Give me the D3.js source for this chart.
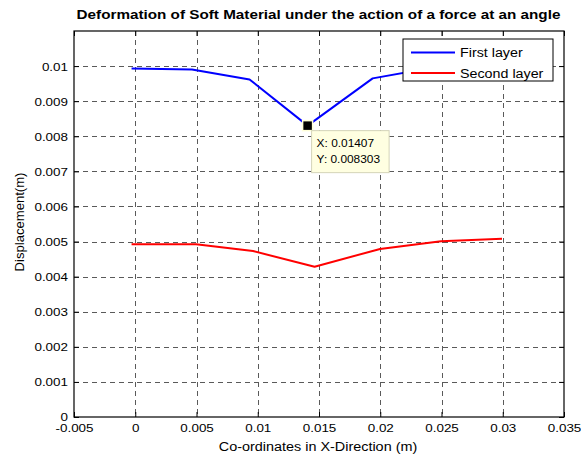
<!DOCTYPE html>
<html>
<head>
<meta charset="utf-8">
<script src="https://cdn.jsdelivr.net/npm/d3@7"></script>
<style>
  html, body { margin: 0; padding: 0; background: #fff; }
  svg { display: block; font-family: "Liberation Sans", Arial, sans-serif; }
</style>
</head>
<body>
<svg id="chart" width="581" height="458"></svg>
<script>
// Node coordinates along X (m) and vertical displacement (m) for each layer
const firstX  = [-0.0003, 0.00463, 0.00933, 0.01407, 0.01938, 0.0247, 0.0300];
const firstY  = [0.00993, 0.00990, 0.00962, 0.008303, 0.00965, 0.00998, 0.01003];
const secondX = [-0.0003, 0.00496, 0.00961, 0.01464, 0.01998, 0.02496, 0.02994];
const secondY = [0.00492, 0.00492, 0.00473, 0.00428, 0.00479, 0.00501, 0.00508];

const xTicks = [-0.005, 0, 0.005, 0.01, 0.015, 0.02, 0.025, 0.03, 0.035];
const xTickLabels = ["-0.005", "0", "0.005", "0.01", "0.015", "0.02", "0.025", "0.03", "0.035"];
const yTicks = [0, 0.001, 0.002, 0.003, 0.004, 0.005, 0.006, 0.007, 0.008, 0.009, 0.01];
const yTickLabels = ["0", "0.001", "0.002", "0.003", "0.004", "0.005", "0.006", "0.007", "0.008", "0.009", "0.01"];

const seriesNames = ["First layer", "Second layer"];
const seriesColors = ["#0000ff", "#ff0000"];

// Data tip on the first layer's minimum
const tipX = 0.01407, tipY = 0.008303;

const svg = d3.select("#chart");
const pL = 74, pR = 564, pT = 31, pB = 417;

const x = d3.scaleLinear().domain([-0.005, 0.035]).range([pL, pR]);
const y = d3.scaleLinear().domain([0, 0.011]).range([pB, pT]);

// Widen text horizontally by a factor (the figure uses broad lettering)
function widen(sel, k) {
  sel.each(function () {
    const w = this.getComputedTextLength();
    if (w > 0) d3.select(this).attr("textLength", w * k).attr("lengthAdjust", "spacingAndGlyphs");
  });
}

// Grid
const grid = svg.append("g").attr("stroke", "#5a5a5a").attr("stroke-width", 1)
  .attr("stroke-dasharray", "5,4").attr("shape-rendering", "crispEdges");
xTicks.slice(1, -1).forEach(t => {
  grid.append("line").attr("x1", Math.round(x(t)) + 0.5).attr("x2", Math.round(x(t)) + 0.5)
    .attr("y1", pT).attr("y2", pB);
});
yTicks.slice(1).forEach(t => {
  grid.append("line").attr("y1", Math.round(y(t)) + 0.5).attr("y2", Math.round(y(t)) + 0.5)
    .attr("x1", pL).attr("x2", pR);
});

// Axes (ticks pointing inward, mirrored on opposite sides)
const fmtX = (d, i) => xTickLabels[i];
const fmtY = (d, i) => yTickLabels[i];
const axB = svg.append("g").attr("transform", `translate(0,${pB})`)
  .call(d3.axisBottom(x).tickValues(xTicks).tickFormat(fmtX).tickSizeInner(-5).tickSizeOuter(0));
const axT = svg.append("g").attr("transform", `translate(0,${pT})`)
  .call(d3.axisTop(x).tickValues(xTicks).tickFormat("").tickSizeInner(-5).tickSizeOuter(0));
const axL = svg.append("g").attr("transform", `translate(${pL},0)`)
  .call(d3.axisLeft(y).tickValues(yTicks).tickFormat(fmtY).tickSizeInner(-5).tickSizeOuter(0).tickPadding(6));
const axR = svg.append("g").attr("transform", `translate(${pR},0)`)
  .call(d3.axisRight(y).tickValues(yTicks).tickFormat("").tickSizeInner(-5).tickSizeOuter(0));
[axB, axT, axL, axR].forEach(g => {
  g.selectAll(".domain").remove();
  g.selectAll("line").attr("stroke", "#000");
  g.selectAll("text").attr("font-size", 11).attr("fill", "#000")
    .attr("font-family", "'Liberation Sans', Arial, sans-serif");
});
axB.selectAll("text").attr("y", 15).attr("dy", 0);
axL.selectAll("text").attr("dy", "0.36em");
widen(axB.selectAll("text"), 1.22);
widen(axL.selectAll("text"), 1.22);

// Frame
svg.append("rect").attr("x", pL).attr("y", pT).attr("width", pR - pL).attr("height", pB - pT)
  .attr("fill", "none").attr("stroke", "#000").attr("stroke-width", 1.2);

// Series lines
const line = d3.line().x(d => x(d[0])).y(d => y(d[1]));
const series = [d3.zip(firstX, firstY), d3.zip(secondX, secondY)];
series.forEach((pts, i) => {
  svg.append("path").datum(pts).attr("d", line)
    .attr("fill", "none").attr("stroke", seriesColors[i]).attr("stroke-width", 2)
    .attr("stroke-linejoin", "round");
});

// Data tip marker and label
const mx = x(tipX), my = y(tipY);
svg.append("rect").attr("x", mx - 5).attr("y", my - 5).attr("width", 10).attr("height", 10)
  .attr("fill", "#000").attr("stroke", "#ffffd8").attr("stroke-width", 1.5);
const tip = svg.append("g").attr("transform", `translate(${mx + 4},${my + 5})`);
tip.append("rect").attr("x", 0).attr("y", 0).attr("width", 77.5).attr("height", 42)
  .attr("fill", "#ffffe1").attr("stroke", "#d4d4b8").attr("stroke-width", 1);
const tipTexts = [
  tip.append("text").attr("x", 5).attr("y", 16).attr("font-size", 11).text("X: " + tipX),
  tip.append("text").attr("x", 5).attr("y", 32.5).attr("font-size", 11).text("Y: " + tipY)
];
tipTexts.forEach(t => widen(t, 1.08));

// Legend
const lg = svg.append("g").attr("transform", "translate(403,39)");
lg.append("rect").attr("x", 0).attr("y", 0).attr("width", 150).attr("height", 42)
  .attr("fill", "#fff").attr("stroke", "#000").attr("stroke-width", 1);
seriesNames.forEach((name, i) => {
  const yy = 13.5 + i * 20.5;
  lg.append("line").attr("x1", 8).attr("x2", 52).attr("y1", yy).attr("y2", yy)
    .attr("stroke", seriesColors[i]).attr("stroke-width", 2);
  const t = lg.append("text").attr("x", 57).attr("y", yy + 4.5).attr("font-size", 12).text(name);
  widen(t, 1.19);
});

// Title and axis labels
const title = svg.append("text").attr("x", (pL + pR) / 2 - 0.5).attr("y", 19).attr("text-anchor", "middle")
  .attr("font-size", 12.5).attr("font-weight", "bold")
  .text("Deformation of Soft Material under the action of a force at an angle");
widen(title, 1.22);
const xLab = svg.append("text").attr("x", (pL + pR) / 2 - 1).attr("y", 451).attr("text-anchor", "middle")
  .attr("font-size", 12).text("Co-ordinates in X-Direction (m)");
widen(xLab, 1.2);
const yLab = svg.append("text").attr("transform", `translate(24,${(pT + pB) / 2 - 2}) rotate(-90)`)
  .attr("text-anchor", "middle").attr("font-size", 12).text("Displacement(m)");
widen(yLab, 1.09);
</script>
</body>
</html>
